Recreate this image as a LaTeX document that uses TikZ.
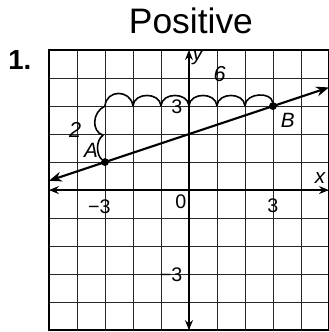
\documentclass[tikz,border=0pt]{standalone}
\usepackage{fontspec}
\setmainfont{Liberation Sans}
\usetikzlibrary{arrows.meta}
\tikzset{
  gridline/.style={line width=0.8pt, black!85},
  frame/.style={line width=1.8pt},
  axis/.style={line width=2pt, {Stealth[length=10pt,width=8pt]}-{Stealth[length=10pt,width=8pt]}},
  graphline/.style={line width=2.2pt, {Stealth[length=13pt,width=10pt]}-{Stealth[length=13pt,width=10pt]}},
  tick/.style={font=\fontsize{20}{20}\selectfont, inner sep=0pt},
  ptlabel/.style={font=\itshape\fontsize{21}{21}\selectfont, inner sep=0pt},
  hand/.style={line width=1.6pt, line cap=round, line join=round},
  handtext/.style={font=\itshape\fontsize{22}{22}\selectfont, inner sep=0pt},
  dot/.style={circle, fill=black, inner sep=0pt, minimum size=8pt}
}
\begin{document}
\begin{tikzpicture}[x=1cm,y=1cm]
\useasboundingbox (-6.75,-5.07) rectangle (5.0,6.79);
% grid
\foreach \i in {-4,...,4} {
  \draw[gridline] (\i,-5) -- (\i,5);
  \draw[gridline] (-5,\i) -- (5,\i);
}
\draw[frame] (-5,-5) rectangle (5,5);
% axes
\coordinate (xl) at (-5,0);
\coordinate (xr) at (5,0);
\coordinate (yt) at (0,5);
\coordinate (yb) at (0,-5);
\draw[axis] (xl) -- (xr);
\draw[axis] (yb) -- (yt);
% line
\coordinate (L) at (-5,0.3333);
\coordinate (R) at (5,3.6667);
\draw[graphline] (L) -- (R);
\node[dot] (A) at (-3,1) {};
\node[dot] (B) at (3,3) {};
% labels
\node[ptlabel] (lA) at (-3.5,1.43) {A};
\node[ptlabel] (lB) at (3.53,2.5) {B};
\node[ptlabel] (lx) at (4.68,0.43) {x};
\node[ptlabel] (ly) at (0.32,4.75) {y};
\node[tick] (tm3) at (-3.2,-0.6) {−3};
\node[tick] (t0) at (-0.29,-0.43) {0};
\node[tick] (t3) at (3,-0.57) {3};
\node[tick] (ty3) at (-0.43,2.96) {3};
\node[tick] (tym3) at (-0.64,-3.02) {−3};
\node[font=\bfseries\fontsize{28}{28}\selectfont, inner sep=0pt] (num) at (-6.04,4.64) {1.};
\node[font=\fontsize{36}{36}\selectfont, inner sep=0pt] (title) at (0.07,6.04) {Positive};
% handwriting: scallops
\draw[hand] (-3,3) .. controls (-2.95,3.6) and (-2.1,3.6) .. (-2,3.02)
  .. controls (-1.95,3.5) and (-1.05,3.5) .. (-1,3.02)
  .. controls (-0.95,3.5) and (-0.05,3.5) .. (0,3.02)
  .. controls (0.05,3.5) and (0.95,3.5) .. (1,3.02)
  .. controls (1.05,3.5) and (1.95,3.5) .. (2,3.02)
  .. controls (2.05,3.5) and (2.95,3.5) .. (B);
% brace for rise
\draw[hand] (-3,3) .. controls (-3.45,2.8) and (-3.5,2.1) .. (-3.07,1.96)
  .. controls (-3.35,1.75) and (-3.3,1.25) .. (A);
\node[handtext] (two) at (-4.07,2.14) {2};
\node[handtext] (six) at (1.1,4.14) {6};
\end{tikzpicture}
\end{document}
